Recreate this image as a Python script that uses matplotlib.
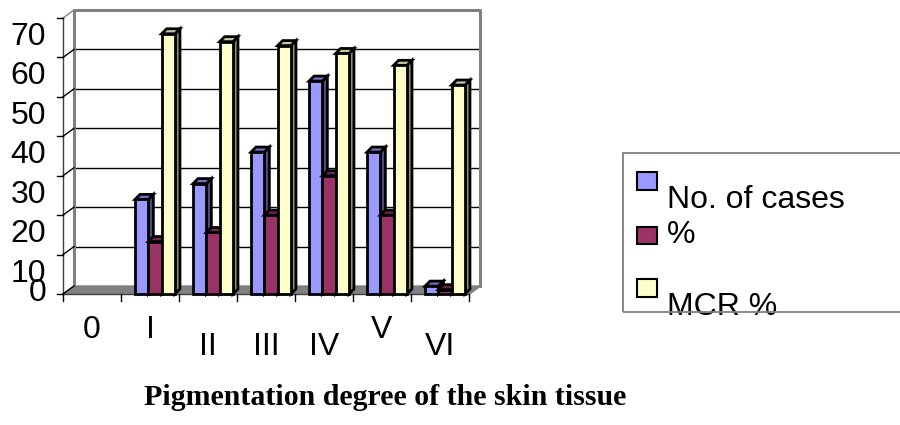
import matplotlib.pyplot as plt
from matplotlib.patches import Polygon, Rectangle
from matplotlib.transforms import offset_copy

categories = ["0", "I", "II", "III", "IV", "V", "VI"]
cases = [0, 24, 28, 36, 54, 36, 2]
percent = [0, 13.3, 15.6, 20, 30, 20, 1.1]
mcr = [0, 66, 64, 63, 61, 58, 53]
series_names = ["No. of cases", "%", "MCR %"]
y_ticks = [0, 10, 20, 30, 40, 50, 60, 70]

# front, side, top colours for each series
colours = [("#9999FF", "#4D4D80", "#7373C0"),
           ("#993366", "#4D1A33", "#732650"),
           ("#FFFFCC", "#8C8C70", "#C8C8A0")]

plt.rcParams["font.family"] = ["Liberation Sans", "DejaVu Sans"]

W, H = 900, 425
fig = plt.figure(figsize=(9, 4.25), dpi=100)
x0px, x1px, y0px, y1px = 63, 469, 294, 18
ax = fig.add_axes([x0px / W, (H - y0px) / H, (x1px - x0px) / W, (y0px - y1px) / H])
n = len(categories)
ax.set_xlim(-0.5, n - 0.5)
ax.set_ylim(0, 70)
ax.axis("off")

ux = (x1px - x0px) / n        # px per x unit
uy = (y0px - y1px) / 70.0     # px per y unit
def dx(p): return p / ux
def dy(p): return p / uy

# wall depth
wd_x, wd_y = dx(11), dy(8)
grey = "#808080"
L, R = -0.5, n - 0.5

# floor
ax.add_patch(Polygon([(L, 0), (R, 0), (R + wd_x, wd_y), (L + wd_x, wd_y)],
                     closed=True, facecolor=grey, edgecolor=grey, lw=1, clip_on=False, zorder=1))
# back wall grid lines
for v in y_ticks[1:-1]:
    ax.plot([L + wd_x, R + wd_x], [v + wd_y, v + wd_y], color="black", lw=1, clip_on=False, zorder=1)
# back wall border
ax.plot([L + wd_x, L + wd_x, R + wd_x, R + wd_x], [wd_y, 70 + wd_y, 70 + wd_y, wd_y],
        color=grey, lw=2.2, clip_on=False, zorder=1)
# left wall
ax.plot([L, L], [0, 70], color="#404040", lw=1, clip_on=False, zorder=2)
for v in y_ticks:
    ax.plot([L, L + wd_x], [v, v + wd_y], color="black" if v < 70 else grey, lw=1,
            clip_on=False, zorder=2)
    ax.plot([L - dx(6), L], [v, v], color="black", lw=1, clip_on=False, zorder=2)
# right floor edge
ax.plot([R, R + wd_x], [0, wd_y], color=grey, lw=1.5, clip_on=False, zorder=2)
# bottom axis and ticks
ax.plot([L, R], [0, 0], color="#404040", lw=1, clip_on=False, zorder=2)
for k in range(n + 1):
    ax.plot([L + k, L + k], [0, -dy(7)], color="black", lw=1, clip_on=False, zorder=2)

# bars
bw = dx(13.3)
bd_x, bd_y = dx(5), dy(5)
start = -1.5 * bw + dx(5)
z = 3
for i in range(n):
    for j, vals in enumerate([cases, percent, mcr]):
        h = vals[i]
        if h <= 0:
            continue
        fc, sc, tc = colours[j]
        xa = i + start + j * bw
        xb = xa + bw
        side = Polygon([(xb, 0), (xb + bd_x, bd_y), (xb + bd_x, h + bd_y), (xb, h)],
                       closed=True, facecolor=sc, edgecolor="black", lw=2, clip_on=False, zorder=z)
        top = Polygon([(xa, h), (xb, h), (xb + bd_x, h + bd_y), (xa + bd_x, h + bd_y)],
                      closed=True, facecolor=tc, edgecolor="black", lw=2, clip_on=False, zorder=z)
        front = Rectangle((xa, 0), bw, h, facecolor=fc, edgecolor="black", lw=2,
                          clip_on=False, zorder=z + 0.5)
        ax.add_patch(side)
        ax.add_patch(top)
        ax.add_patch(front)
        z += 1

# y tick labels
for v in y_ticks:
    off = -19 if v > 0 else 1
    tr = offset_copy(ax.transData, fig=fig, x=-17, y=off, units="dots")
    ax.text(L, v, str(v), transform=tr, ha="right", va="center", fontsize=23, clip_on=False)

# x tick labels (staggered like the original)
rows = [0, 0, 1, 1, 1, 0, 1]
for i, lab in enumerate(categories):
    off = -36 if rows[i] == 0 else -53
    tr = offset_copy(ax.transData, fig=fig, x=0, y=off, units="dots")
    ax.text(i, 0, lab, transform=tr, ha="center", va="center", fontsize=23, clip_on=False)

fig.text(385 / W, (H - 405) / H, "Pigmentation degree of the skin tissue", ha="center",
         va="baseline", fontsize=21.5, fontweight="bold", family=["Liberation Serif", "DejaVu Serif"])

# legend
def fy(p): return (H - p) / H
sq = [(172, 190), (227, 244), (279, 297)]
base = [208, 243, 315]
for j, name in enumerate(series_names):
    t, b = sq[j]
    fig.patches.append(Rectangle((637 / W, fy(b)), 20 / W, (b - t) / H, facecolor=colours[j][0],
                                 edgecolor="black", lw=1.5, transform=fig.transFigure, zorder=5))
    fig.text(667 / W, fy(base[j]), name, fontsize=23, va="baseline", ha="left", zorder=5)
fig.patches.append(Rectangle((623 / W, fy(312)), 300 / W, (312 - 153) / H, facecolor="none",
                             edgecolor=grey, lw=1.3, transform=fig.transFigure, zorder=6))

fig.savefig("out.png", dpi=100, facecolor="white")
